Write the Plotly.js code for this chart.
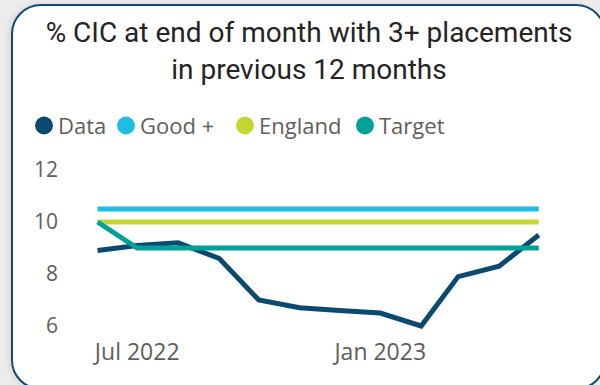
<!DOCTYPE html>
<html>
<head>
<meta charset="utf-8">
<script src="https://cdn.plot.ly/plotly-3.0.1.min.js"></script>
<style>
  html, body { margin: 0; padding: 0; width: 600px; height: 385px; overflow: hidden; background: #ececec; }
  #card { position: absolute; left: 11px; top: 4px; width: 595px; height: 386px; box-sizing: border-box;
          border: 2px solid #104a70; border-radius: 30px; background: #ffffff; box-shadow: -3px 0 6px rgba(0,0,0,0.08); }
  #chart { position: absolute; left: 0; top: 0; width: 600px; height: 385px; }
</style>
</head>
<body>
<div id="card"></div>
<div id="chart"></div>
<script>
// ---- data ----
const months = ["2022-06-01","2022-07-01","2022-08-01","2022-09-01","2022-10-01","2022-11-01",
                "2022-12-01","2023-01-01","2023-02-01","2023-03-01","2023-04-01","2023-05-01"];
const dataValues    = [8.9, 9.1, 9.2, 8.6, 7.0, 6.7, 6.6, 6.5, 6.0, 7.9, 8.3, 9.5];
const goodValues    = [10.5, 10.5, 10.5, 10.5, 10.5, 10.5, 10.5, 10.5, 10.5, 10.5, 10.5, 10.5];
const englandValues = [10.0, 10.0, 10.0, 10.0, 10.0, 10.0, 10.0, 10.0, 10.0, 10.0, 10.0, 10.0];
const targetValues  = [10.0, 9.0, 9.0, 9.0, 9.0, 9.0, 9.0, 9.0, 9.0, 9.0, 9.0, 9.0];
const seriesNames   = ["Data", "Good +", "England", "Target"];
const seriesColors  = ["#0b4a6f", "#1fbde1", "#c6d631", "#00a197"];
const xTickVals     = ["2022-07-01", "2023-01-01"];
const xTickText     = ["Jul 2022", "Jan 2023"];
const yTickVals     = [6, 8, 10, 12];
const titleText     = "% CIC at end of month with 3+ placements<br>in previous 12 months";

const seriesValues = [dataValues, goodValues, englandValues, targetValues];
const drawOrder = [1, 2, 0, 3];

const traces = drawOrder.map(i => ({
  type: "scatter", mode: "lines", x: months, y: seriesValues[i], name: seriesNames[i],
  line: { color: seriesColors[i], width: 5, shape: "linear" }, showlegend: false,
  hoverinfo: "skip"
}));

const W = 600, H = 385;
const margin = { l: 87, r: 52, t: 157, b: 46 };
const pw = W - margin.l - margin.r, ph = H - margin.t - margin.b;
function px2paperX(px) { return (px - margin.l) / pw; }
function px2paperY(py) { return (H - margin.b - py) / ph; }

// custom legend (circle + label)
const legendX = [44, 126, 245, 365];
const legendY = 125.5;
const legendShapes = seriesNames.map((n, i) => ({
  type: "circle", xref: "paper", yref: "paper",
  x0: px2paperX(legendX[i] - 9), x1: px2paperX(legendX[i] + 9),
  y0: px2paperY(legendY + 9), y1: px2paperY(legendY - 9),
  line: { width: 0 }, fillcolor: seriesColors[i]
}));
const annotations = seriesNames.map((n, i) => ({
  xref: "paper", yref: "paper", x: px2paperX(legendX[i] + 12), y: px2paperY(legendY),
  xanchor: "left", yanchor: "middle", showarrow: false, text: n,
  font: { family: "Open Sans", size: 22, color: "#605e5c" }
}));

const layout = {
  width: W, height: H, margin: margin,
  paper_bgcolor: "rgba(0,0,0,0)", plot_bgcolor: "rgba(0,0,0,0)",
  title: { text: titleText, x: 0.515, xanchor: "center", y: 0.89, yanchor: "top", yref: "container",
           font: { family: "Roboto", size: 28, color: "#252423" } },
  xaxis: { type: "date", range: ["2022-05-24", "2023-05-08"], tickvals: xTickVals, ticktext: xTickText,
           showgrid: false, zeroline: false, showline: false, ticks: "", ticklabelstandoff: -3,
           tickfont: { family: "Open Sans", size: 23, color: "#605e5c" }, fixedrange: true },
  yaxis: { range: [5.5, 12.5], tickvals: yTickVals, showgrid: false, zeroline: false, showline: false,
           ticks: "", ticklabelstandoff: 28,
           tickfont: { family: "Open Sans", size: 21, color: "#605e5c" }, fixedrange: true },
  shapes: legendShapes, annotations: annotations, showlegend: false
};

Plotly.newPlot("chart", traces, layout, { displayModeBar: false, staticPlot: true });
</script>
</body>
</html>
